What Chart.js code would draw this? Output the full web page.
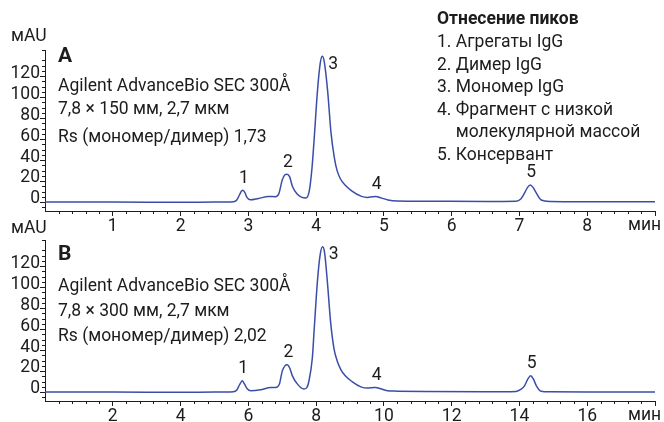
<!DOCTYPE html>
<html>
<head>
<meta charset="utf-8">
<script src="https://cdn.jsdelivr.net/npm/chart.js@4.4.0/dist/chart.umd.min.js"></script>
<style>
  body { margin: 0; background: #fff; }
  #wrap { position: relative; width: 664px; height: 422px; }
  .box { position: absolute; left: 0; width: 664px; }
  #boxA { top: 0; height: 240px; }
  #boxB { top: 212px; height: 210px; }
</style>
</head>
<body>
<div id="wrap">
  <div class="box" id="boxA"><canvas id="chartA"></canvas></div>
  <div class="box" id="boxB"><canvas id="chartB"></canvas></div>
</div>
<script>
// chromatogram A: 7.8 x 150 mm column
const timeA = [0, 1.0, 2.0, 2.5, 2.78, 2.83, 2.87, 2.9, 2.92, 2.95, 2.98, 3.03, 3.15, 3.3, 3.4, 3.45, 3.5, 3.54, 3.57, 3.61, 3.65, 3.72, 3.79, 3.85, 3.9, 3.94, 3.97, 4.02, 4.06, 4.09, 4.12, 4.17, 4.22, 4.27, 4.31, 4.36, 4.43, 4.53, 4.66, 4.76, 4.83, 4.88, 4.95, 5.06, 5.2, 5.6, 6.5, 6.95, 7.02, 7.07, 7.12, 7.16, 7.2, 7.25, 7.32, 7.45, 8.0, 9.0];
const signalA = [0, 0, -0.2, 0, 0.3, 2, 7, 10.5, 11.4, 9, 4.5, 2.2, 3.5, 5.3, 5.2, 8, 21, 26, 26.6, 24, 15, 7.6, 4.5, 4, 11, 33, 59, 106, 132, 139, 134, 106, 66, 42, 30, 22, 16, 10.5, 5.7, 4.4, 5, 5.4, 4.2, 2, 1, 0.8, 0.6, 0.8, 3, 8, 14, 16.2, 14, 8.5, 2, 0.6, 0.4, 0.3];

// chromatogram B: 7.8 x 300 mm column
const timeB = [0, 2.0, 4.0, 5.0, 5.56, 5.66, 5.74, 5.8, 5.82, 5.88, 5.96, 6.07, 6.36, 6.66, 6.8, 6.92, 7.0, 7.08, 7.15, 7.22, 7.3, 7.45, 7.64, 7.72, 7.79, 7.89, 7.94, 8.04, 8.12, 8.19, 8.25, 8.33, 8.43, 8.53, 8.63, 8.73, 8.86, 9.06, 9.32, 9.52, 9.66, 9.76, 9.9, 10.1, 10.4, 11.2, 13.0, 13.9, 14.04, 14.15, 14.25, 14.33, 14.41, 14.5, 14.64, 14.9, 16.0, 18.0];
const signalB = [0, 0, -0.2, 0, 0.3, 2, 7, 10.2, 10.8, 8, 3.5, 1.3, 2.2, 4.4, 4.4, 8, 20, 25, 26, 23, 15.5, 7.6, 2.9, 4, 10.8, 33, 58, 106, 131, 138.5, 133, 106, 66, 41, 29, 21.5, 15.5, 10, 5, 3.8, 4.2, 4.4, 3.2, 1.3, 0.9, 0.5, 0.3, 0.6, 2.5, 6, 12.5, 15.5, 12.5, 6, 0.8, 0.2, 0, 0];

const yTickLabels = [0, 20, 40, 60, 80, 100, 120];
const xTickLabelsA = [1, 2, 3, 4, 5, 6, 7, 8];
const xTickLabelsB = [2, 4, 6, 8, 10, 12, 14, 16];

const peakNames = ['1', '2', '3', '4', '5'];
const peakTimesA = [2.92, 3.57, 4.09, 4.88, 7.16];
const peakHeightsA = [11.4, 26.6, 139, 5.4, 16.2];
const peakTimesB = [5.82, 7.15, 8.19, 9.76, 14.33];
const peakHeightsB = [10.8, 26, 138.5, 4.4, 15.5];

const notesA = ['Agilent AdvanceBio SEC 300Å', '7,8 × 150 мм, 2,7 мкм', 'Rs (мономер/димер) 1,73'];
const notesB = ['Agilent AdvanceBio SEC 300Å', '7,8 × 300 мм, 2,7 мкм', 'Rs (мономер/димер) 2,02'];

const legendTitle = 'Отнесение пиков';
const legendLines = ['1. Агрегаты IgG', '2. Димер IgG', '3. Мономер IgG', '4. Фрагмент с низкой', 'молекулярной массой', '5. Консервант'];

const FONT = 'Roboto, "Liberation Sans", sans-serif';
const INK = '#1c1c1c';
const LINE = '#3a4ea8';

function makePlugin(p) {
  return {
    id: 'chrom' + p.letter,
    afterDraw(chart) {
      const ctx = chart.ctx;
      const xs = chart.scales.x;
      const ys = chart.scales.y;
      const a = chart.chartArea;
      ctx.save();

      // minor ticks
      ctx.strokeStyle = INK;
      ctx.lineWidth = 1;
      ctx.beginPath();
      for (let i = -1; i * 5 <= ys.max; i++) {
        if (i % 4 === 0) continue;
        const y = Math.round(ys.getPixelForValue(i * 5)) + 0.5;
        ctx.moveTo(a.left - 3, y);
        ctx.lineTo(a.left, y);
      }
      for (let i = 1; i * p.minor < xs.max + 0.001; i++) {
        if (i % 5 === 0) continue;
        const x = Math.round(xs.getPixelForValue(i * p.minor)) + 0.5;
        ctx.moveTo(x, a.bottom);
        ctx.lineTo(x, a.bottom + 3);
      }
      ctx.stroke();

      ctx.fillStyle = INK;
      ctx.textBaseline = 'middle';

      // axis captions
      ctx.font = '17.5px ' + FONT;
      ctx.textAlign = 'left';
      ctx.fillText('мAU', 11, p.mauY);
      ctx.fillText('мин', 628, a.bottom + 15);

      // panel letter + column notes
      ctx.font = 'bold 21px ' + FONT;
      ctx.fillText(p.letter, 58, p.letterY);
      ctx.font = '17.5px ' + FONT;
      p.notes.forEach((t, i) => ctx.fillText(t, 58, p.noteY[i]));

      // peak numbers
      ctx.textAlign = 'center';
      peakNames.forEach((n, i) => {
        const x = xs.getPixelForValue(p.times[i]);
        const y = ys.getPixelForValue(p.heights[i]);
        if (i === 2) ctx.fillText(n, x + 11, y + 8);
        else ctx.fillText(n, x + 1, y - 12);
      });

      // peak assignment list
      if (p.legend) {
        ctx.textAlign = 'left';
        ctx.font = 'bold 17.5px ' + FONT;
        ctx.fillText(legendTitle, 437, 20);
        ctx.font = '17.5px ' + FONT;
        const indent = ctx.measureText('4. ').width;
        legendLines.forEach((t, i) => {
          const x = i === 4 ? 437 + indent : 437;
          ctx.fillText(t, x, 42.7 + i * 22.5);
        });
      }
      ctx.restore();
    }
  };
}

function makeChart(id, p) {
  return new Chart(document.getElementById(id), {
    type: 'line',
    data: {
      datasets: [{
        data: p.times2.map((t, i) => ({ x: t, y: p.signal[i] })),
        borderColor: LINE,
        borderWidth: 1.5,
        pointRadius: 0,
        cubicInterpolationMode: 'monotone',
        fill: false
      }]
    },
    options: {
      responsive: true,
      maintainAspectRatio: false,
      animation: false,
      layout: { padding: { top: p.padTop, right: 9, left: 0, bottom: 0 } },
      plugins: { legend: { display: false }, tooltip: { enabled: false } },
      scales: {
        x: {
          type: 'linear',
          min: 0,
          max: p.xMax,
          afterFit: s => { s.height = p.xAxisH; },
          afterBuildTicks: s => { s.ticks = p.xTicks.concat([p.xMax]).map(v => ({ value: v })); },
          border: { color: INK, width: 1 },
          grid: { drawOnChartArea: false, tickLength: 5, color: INK },
          ticks: {
            padding: 0,
            maxRotation: 0,
            autoSkip: false,
            color: INK,
            font: { family: FONT, size: 17.5 },
            callback: v => (v === p.xMax ? '' : String(v))
          }
        },
        y: {
          min: -8.5,
          max: 145,
          afterFit: s => { s.width = 45; },
          afterBuildTicks: s => { s.ticks = yTickLabels.map(v => ({ value: v })); },
          border: { color: INK, width: 1 },
          grid: { drawOnChartArea: false, tickLength: 5, color: INK },
          ticks: {
            padding: 0,
            labelOffset: -3,
            color: INK,
            font: { family: FONT, size: 17.5 },
            callback: v => String(v)
          }
        }
      }
    },
    plugins: [makePlugin(p)]
  });
}

makeChart('chartA', {
  letter: 'A', times: peakTimesA, heights: peakHeightsA, times2: timeA, signal: signalA,
  xMax: 9, xTicks: xTickLabelsA, minor: 0.2, padTop: 50, xAxisH: 29,
  mauY: 37, letterY: 57, notes: notesA, noteY: [86.5, 110, 138], legend: true
});
makeChart('chartB', {
  letter: 'B', times: peakTimesB, heights: peakHeightsB, times2: timeB, signal: signalB,
  xMax: 18, xTicks: xTickLabelsB, minor: 0.4, padTop: 28, xAxisH: 21,
  mauY: 17, letterY: 43, notes: notesB, noteY: [74.5, 99.5, 124.5], legend: false
});
</script>
</body>
</html>
